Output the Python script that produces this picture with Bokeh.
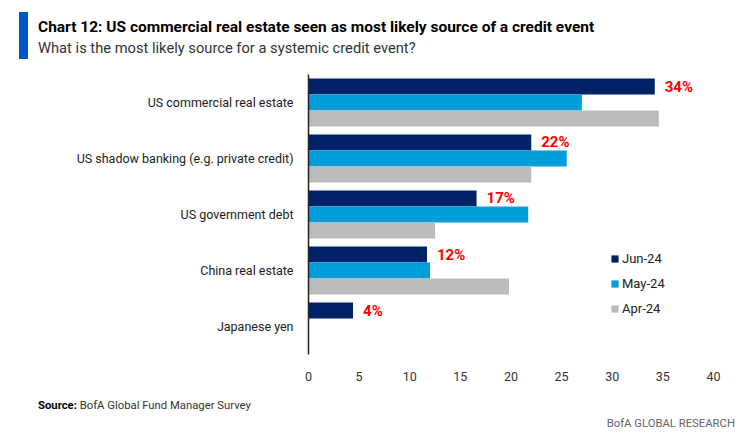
from bokeh.plotting import figure
from bokeh.layouts import column
from bokeh.models import (FactorRange, Range1d, LabelSet, ColumnDataSource,
                          Legend, LegendItem, FixedTicker, Div)
from bokeh.transform import dodge
from bokeh.embed import file_html
from bokeh.resources import INLINE
from bokeh.core.properties import value

# ---- data ----
categories = ["US commercial real estate",
              "US shadow banking (e.g. private credit)",
              "US government debt",
              "China real estate",
              "Japanese yen"]
series_names = ["Jun-24", "May-24", "Apr-24"]
jun24 = [34.2, 22.0, 16.6, 11.7, 4.4]
may24 = [27.0, 25.5, 21.7, 12.0, 0.0]
apr24 = [34.6, 22.0, 12.5, 19.8, 0.0]
x_ticks = [0, 5, 10, 15, 20, 25, 30, 35, 40]
title_text = "Chart 12: US commercial real estate seen as most likely source of a credit event"
subtitle_text = "What is the most likely source for a systemic credit event?"
source_label = "Source:"
source_text = "BofA Global Fund Manager Survey"
brand_text = "BofA GLOBAL RESEARCH"

# ---- styles ----
NAVY = "#002266"
BLUE = "#009EDB"
GRAY = "#BBBBBB"
RED = "#FF0000"
FONT = "Roboto"

W = 746
HEAD_H, MAIN_H, FOOT_H = 74, 316, 52
FL, FR = 308, 713

# ---- header ----
head_html = f"""
<div style="position:relative;width:{W}px;height:{HEAD_H}px;font-family:{FONT};">
  <div style="position:absolute;left:19px;top:12px;width:9px;height:47px;background:#0055C8;"></div>
  <div style="position:absolute;left:38px;top:17.5px;height:18px;line-height:18px;font-size:15.5px;
              font-weight:bold;color:#000000;white-space:nowrap;">{title_text}</div>
  <div style="position:absolute;left:38px;top:39px;height:18px;line-height:18px;font-size:14.7px;
              color:#333333;white-space:nowrap;">{subtitle_text}</div>
</div>
"""
head = Div(text=head_html, width=W, height=HEAD_H, margin=0)

# ---- main chart ----
p = figure(width=W, height=MAIN_H, title=None,
           y_range=FactorRange(factors=list(reversed(categories))),
           x_range=Range1d(0, 40),
           output_backend="svg", toolbar_location=None,
           min_border_left=FL, min_border_right=W - FR,
           min_border_top=0, min_border_bottom=36)
p.outline_line_color = None
p.xgrid.visible = False
p.ygrid.visible = False
p.background_fill_color = "white"
p.border_fill_color = "white"

src = ColumnDataSource(dict(cat=categories, jun=jun24, may=may24, apr=apr24,
                            lab=[f"{round(v)}%" for v in jun24]))

bh = 16 / 56
r_jun = p.hbar(y=dodge("cat", bh, range=p.y_range), right="jun", left=0, height=bh,
               source=src, fill_color=NAVY, line_color=None)
r_may = p.hbar(y=dodge("cat", 0, range=p.y_range), right="may", left=0, height=bh,
               source=src, fill_color=BLUE, line_color=None)
r_apr = p.hbar(y=dodge("cat", -bh, range=p.y_range), right="apr", left=0, height=bh,
               source=src, fill_color=GRAY, line_color=None)

labels = LabelSet(x="jun", y=dodge("cat", bh, range=p.y_range), text="lab", source=src,
                  x_offset=10, text_baseline="middle", text_align="left",
                  text_color=RED, text_font=value(FONT), text_font_size="15px",
                  text_font_style="bold")
p.add_layout(labels)

xa = p.xaxis[0]
xa.ticker = FixedTicker(ticks=x_ticks)
xa.axis_line_color = None
xa.major_tick_line_color = None
xa.minor_tick_line_color = None
xa.major_label_standoff = 11
xa.major_label_text_font = FONT
xa.major_label_text_font_size = "12.5px"
xa.major_label_text_color = "#333333"

ya = p.yaxis[0]
ya.axis_line_color = "#222222"
ya.axis_line_width = 1.5
ya.major_tick_line_color = None
ya.minor_tick_line_color = None
ya.major_label_standoff = 9
ya.major_label_text_font = FONT
ya.major_label_text_font_size = "12.5px"
ya.major_label_text_color = "#222222"

legend = Legend(items=[LegendItem(label=n, renderers=[r]) for n, r in
                       zip(series_names, [r_jun, r_may, r_apr])],
                location=(302, 37), orientation="vertical",
                glyph_width=9, glyph_height=9, label_height=17, spacing=8,
                padding=0, margin=0, border_line_color=None,
                background_fill_alpha=0, label_standoff=3,
                label_text_font=FONT, label_text_font_size="13px",
                label_text_color="#222222")
p.add_layout(legend)

# ---- footer ----
foot_html = f"""
<div style="position:relative;width:{W}px;height:{FOOT_H}px;font-family:{FONT};">
  <div style="position:absolute;left:38px;top:8px;height:16px;line-height:16px;font-size:11.3px;
              color:#333333;white-space:nowrap;"><b style="color:#000000;">{source_label}</b> {source_text}</div>
  <div style="position:absolute;right:11px;top:26px;height:16px;line-height:16px;font-size:11.3px;
              color:#666666;white-space:nowrap;">{brand_text}</div>
</div>
"""
foot = Div(text=foot_html, width=W, height=FOOT_H, margin=0)

layout = column(head, p, foot, spacing=0)
open("out.html", "w").write(file_html(layout, INLINE))
